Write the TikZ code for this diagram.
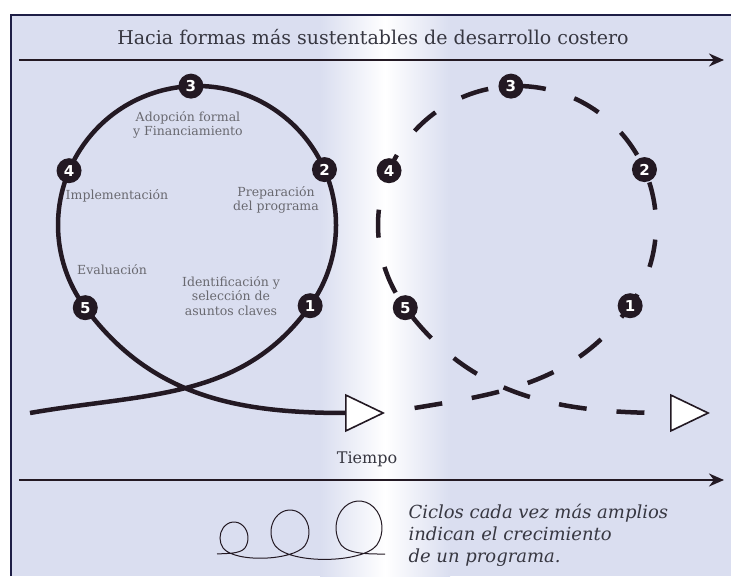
\documentclass[tikz,border=0pt]{standalone}
\usepackage{fontspec}
\setmainfont{DejaVu Serif}
\newfontfamily\badgefont{DejaVu Sans}
\usetikzlibrary{arrows.meta,calc,backgrounds}
\definecolor{bgblue}{RGB}{218,222,240}
\definecolor{framenavy}{RGB}{30,30,70}
\definecolor{inkgray}{RGB}{55,55,65}
\definecolor{loopink}{RGB}{35,25,35}
\tikzset{
	badge/.style={circle, fill=loopink, text=white, inner sep=0pt, minimum size=25pt,
		font=\badgefont\bfseries\fontsize{15}{15}\selectfont},
	stagetext/.style={align=center, text=inkgray!75, font=\fontsize{12.5}{14.5}\selectfont},
	cycleline/.style={line width=4.5pt, draw=loopink},
	opentip/.style={-{Triangle[open, fill=white, length=40pt, width=38pt, line width=1.6pt]}},
	timearrow/.style={line width=2.2pt, draw=loopink, -{Stealth[length=15pt, width=13pt]}}
}

\begin{document}
\begin{tikzpicture}[x=1pt, y=1pt]
			%%%%% START %%%%%
			\useasboundingbox (0,0) rectangle (731,576);
			
			\coordinate (Lc) at (197,351);
			\coordinate (Rc) at (517,351);
			\coordinate (Ls) at (30,163);
			\coordinate (Lb) at (345,163);
			\coordinate (Lt) at (385,163);
			\coordinate (Rb) at (668,163);
			\coordinate (Rt) at (710,163);
			
			% stages of each cycle
			\foreach \n/\a in {1/-35.5, 2/23.5, 3/92.5, 4/157, 5/-143.5} {
				\node[badge] (L\n) at ($(Lc)+(\a:139pt)$) {\n};
				\node[badge] (R\n) at ($(Rc)+(\a:139pt)$) {\n};
			}
			
			\begin{pgfonlayer}{background}
				\fill[white] (0,0) rectangle (731,576);
				\fill[bgblue] (11,0) rectangle (731,561);
				\shade[left color=bgblue, right color=bgblue, middle color=white] (320,0) rectangle (450,561);
				\draw[framenavy, line width=1.5pt] (11,0) -- (11,561) -- (731,561);
				
				\draw[cycleline, opentip] (Ls) to[out=10, in=234.5] (L1.center)
					arc[start angle=-35.5, end angle=216.5, radius=139pt]
					to[out=-53.5, in=180] (Lb) -- (Lt);
				\draw[cycleline, dash pattern=on 28pt off 30pt, dash phase=28pt, opentip] (Lt) to[out=10, in=234.5] (R1.center)
					arc[start angle=-35.5, end angle=216.5, radius=139pt]
					to[out=-53.5, in=180] (Rb) -- (Rt);
			\end{pgfonlayer}
			
			\node[anchor=base, text=inkgray, font=\fontsize{19}{22}\selectfont] (title) at (373,531) {Hacia formas más sustentables de desarrollo costero};
			\coordinate (topL) at (19,516);
			\coordinate (topR) at (724,516);
			\draw[timearrow] (topL) -- (topR);
			
			\node[stagetext] (adopcion) at (188,451) {Adopción formal\\y Financiamiento};
			\node[stagetext] (preparacion) at (276,376) {Preparación\\del programa};
			\node[stagetext] (implementacion) at (117,380) {Implementación};
			\node[stagetext] (evaluacion) at (112,306) {Evaluación};
			\node[stagetext] (identificacion) at (231,280) {Identificación y\\selección de\\asuntos claves};
			
			\node[anchor=base, text=inkgray, font=\fontsize{16}{18}\selectfont] (tiempo) at (367,113) {Tiempo};
			\coordinate (timeL) at (19,96);
			\coordinate (timeR) at (724,96);
			\draw[timearrow] (timeL) -- (timeR);
			
			% growing cycles
			\draw[loopink, line width=1pt] (217,22) to[out=5, in=230, looseness=0.7] ($(234,38)+({14*cos(-40)},{16*sin(-40)})$)
				arc[start angle=-40, end angle=220, x radius=14pt, y radius=16pt]
				to[out=-50, in=230, looseness=0.6] ($(290,44)+({19*cos(-40)},{22*sin(-40)})$)
				arc[start angle=-40, end angle=220, x radius=19pt, y radius=22pt]
				to[out=-50, in=230, looseness=0.6] ($(359,48)+({23*cos(-40)},{27*sin(-40)})$)
				arc[start angle=-40, end angle=220, x radius=23pt, y radius=27pt]
				to[out=-50, in=180, looseness=0.7] (385,22);
			\node[anchor=base west, align=left, text=inkgray, font=\itshape\fontsize{18}{22}\selectfont] (nota) at (405,14) {Ciclos cada vez más amplios\\indican el crecimiento\\de un programa.};
			
			%%%%% END %%%%%
\end{tikzpicture}
\end{document}
